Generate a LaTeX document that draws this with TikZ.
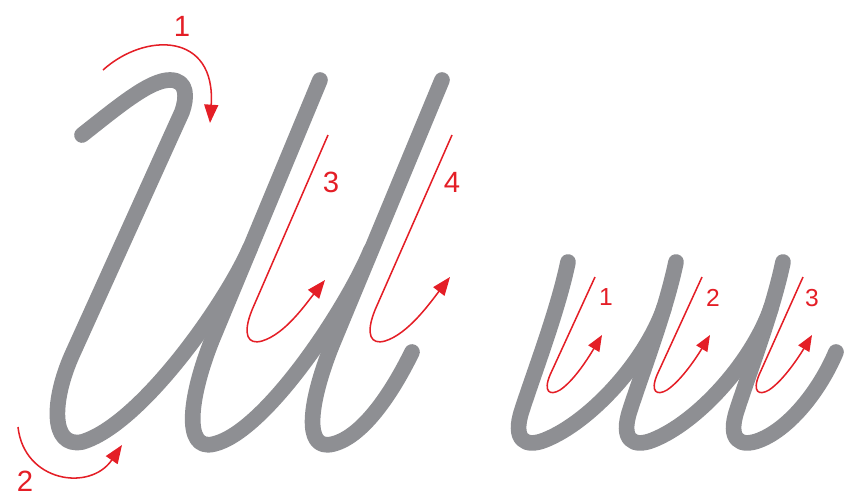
\documentclass[tikz,border=0pt]{standalone}
\usepackage{fontspec}
\setmainfont{Liberation Sans}
\usepackage{tikz}
\usetikzlibrary{arrows.meta}
\definecolor{strokegray}{RGB}{142,143,147}
\definecolor{guidered}{RGB}{228,30,38}

\begin{document}
\begin{tikzpicture}[
    x=0.03cm, y=-0.03cm,
    letter/.style={strokegray, line width=4.7mm, line cap=round, line join=round},
    guide/.style={guidered, line width=1.3pt, -{Triangle[length=5.5mm, width=4.2mm]}},
    smallguide/.style={guide, -{Triangle[length=4.8mm, width=3.8mm]}},
    num/.style={guidered, inner sep=0pt, font=\fontsize{25}{25}\selectfont},
    smallnum/.style={num, font=\fontsize{21}{21}\selectfont}
]
\useasboundingbox (0,0) rectangle (846,497);

% capital letter
\draw[letter] (82,135) .. controls (120,105) and (150,80) .. (170,80)
    .. controls (188,80) and (187,98) .. (182,112) -- (72,355)
    .. controls (52,400) and (50,448) .. (82,442) .. controls (140,425) and (225,305) .. (250,248);
\draw[letter] (320,80) -- (212,340) .. controls (190,395) and (182,452) .. (214,444)
    .. controls (265,432) and (346,310) .. (371,250);
\draw[letter] (442,80) -- (332,345) .. controls (310,400) and (302,452) .. (333,444)
    .. controls (365,436) and (395,387) .. (412,352);

% small letter
\draw[letter] (568,262) .. controls (558,310) and (535,370) .. (522,410)
    .. controls (512,440) and (525,448) .. (545,440) .. controls (590,422) and (645,362) .. (664,308);
\draw[letter] (676,262) .. controls (666,310) and (643,370) .. (630,410)
    .. controls (620,440) and (633,448) .. (653,440) .. controls (698,422) and (752,362) .. (771,308);
\draw[letter] (783,262) .. controls (773,310) and (750,370) .. (737,410)
    .. controls (727,440) and (740,448) .. (760,440) .. controls (790,428) and (820,390) .. (836,352);

% stroke order, capital
\draw[guide] (103,70) .. controls (145,32) and (216,32) .. (210,123);
\node[num] (n1) at (182,26) {1};
\draw[guide] (18,427) .. controls (24,482) and (90,492) .. (122,445);
\node[num] (n2) at (25,481) {2};
\draw[guide] (328,135) -- (252,310) .. controls (242,335) and (248,345) .. (262,341)
    .. controls (285,334) and (305,305) .. (325,280);
\node[num] (n3) at (331,182) {3};
\draw[guide] (452,135) -- (375,310) .. controls (365,335) and (371,345) .. (385,341)
    .. controls (408,334) and (430,303) .. (450,277);
\node[num] (n4) at (452,182) {4};

% stroke order, small
\draw[smallguide] (595,277) -- (550,375) .. controls (543,392) and (550,396) .. (560,390)
    .. controls (575,380) and (590,355) .. (602,335);
\node[smallnum] (m1) at (606,297) {1};
\draw[smallguide] (702,277) -- (657,375) .. controls (650,392) and (657,396) .. (667,390)
    .. controls (682,380) and (698,355) .. (710,335);
\node[smallnum] (m2) at (713,298) {2};
\draw[smallguide] (803,277) -- (759,375) .. controls (752,392) and (759,396) .. (769,390)
    .. controls (784,380) and (800,355) .. (812,335);
\node[smallnum] (m3) at (812,298) {3};
\end{tikzpicture}
\end{document}
